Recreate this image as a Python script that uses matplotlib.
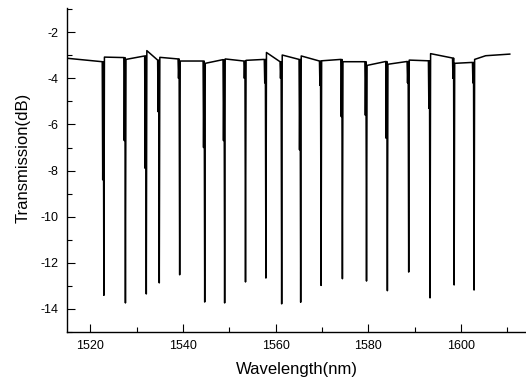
import numpy as np
import matplotlib
matplotlib.use("Agg")
import matplotlib.pyplot as plt
from matplotlib.ticker import MultipleLocator

plt.rcParams['font.family'] = ['Liberation Sans', 'DejaVu Sans']
plt.rcParams['axes.unicode_minus'] = False

# dip centres (nm) and minimum transmission (dB)
dip_wl = [1522.95, 1527.6, 1532.1, 1534.9, 1539.3, 1544.7, 1549.0, 1553.5, 1557.9, 1561.3,
          1565.4, 1569.8, 1574.4, 1579.6, 1584.1, 1588.7, 1593.3, 1598.5, 1602.8]
dip_min = [-13.41, -13.74, -13.35, -12.87, -12.52, -13.70, -13.74, -12.83, -12.66, -13.78,
           -13.71, -12.98, -12.69, -12.79, -13.21, -12.40, -13.52, -12.96, -13.18]
# baseline level just before / just after each dip
pre_level = [-3.28, -3.10, -3.03, -3.21, -3.16, -3.25, -3.19, -3.25, -3.18, -3.28,
             -3.18, -3.25, -3.18, -3.28, -3.27, -3.27, -3.24, -3.12, -3.31]
post_level = [-3.08, -3.18, -2.80, -3.09, -3.25, -3.35, -3.16, -3.22, -2.88, -2.99,
              -3.03, -3.24, -3.28, -3.44, -3.39, -3.21, -2.93, -3.35, -3.18]
# shallower side notch next to each dip
notch = [-8.4, -6.7, -7.9, -5.45, -4.0, -7.0, -6.7, -4.0, -4.2, -4.0,
         -7.1, -4.3, -5.66, -5.6, -6.6, -4.2, -5.3, -4.0, -4.2]
# start and tail of the spectrum
head_wl, head_db = [1515.0], [-3.13]
tail_wl, tail_db = [1605.3, 1610.5], [-3.02, -2.95]

wl = list(head_wl)
db = list(head_db)
for c, m, a, b, n in zip(dip_wl, dip_min, pre_level, post_level, notch):
    wl += [c - 0.35, c - 0.25, c - 0.12, c, c + 0.12]
    db += [a, n, a, m, b]
wl += tail_wl
db += tail_db

fig = plt.figure(figsize=(5.26, 3.8), dpi=100)
ax = fig.add_axes([0.1274, 0.1263, 0.8726, 0.8527])
ax.plot(wl, db, color='black', lw=1.1)

ax.set_xlim(1515, 1614)
ax.set_ylim(-15, -0.95)
ax.xaxis.set_major_locator(MultipleLocator(20))
ax.xaxis.set_minor_locator(MultipleLocator(10))
ax.yaxis.set_major_locator(MultipleLocator(2))
ax.yaxis.set_minor_locator(MultipleLocator(1))
ax.tick_params(which='major', direction='in', length=6, width=0.8, labelsize=9, pad=6)
ax.tick_params(which='minor', direction='in', length=3.5, width=0.8)
for s in ['top', 'right']:
    ax.spines[s].set_visible(False)
for s in ['left', 'bottom']:
    ax.spines[s].set_linewidth(1.0)

ax.set_xlabel('Wavelength(nm)', fontsize=12, labelpad=7)
ax.set_ylabel('Transmission(dB)', fontsize=12, labelpad=8)
ax.yaxis.set_label_coords(-0.080, 0.537)

fig.savefig('out.png', dpi=100)
